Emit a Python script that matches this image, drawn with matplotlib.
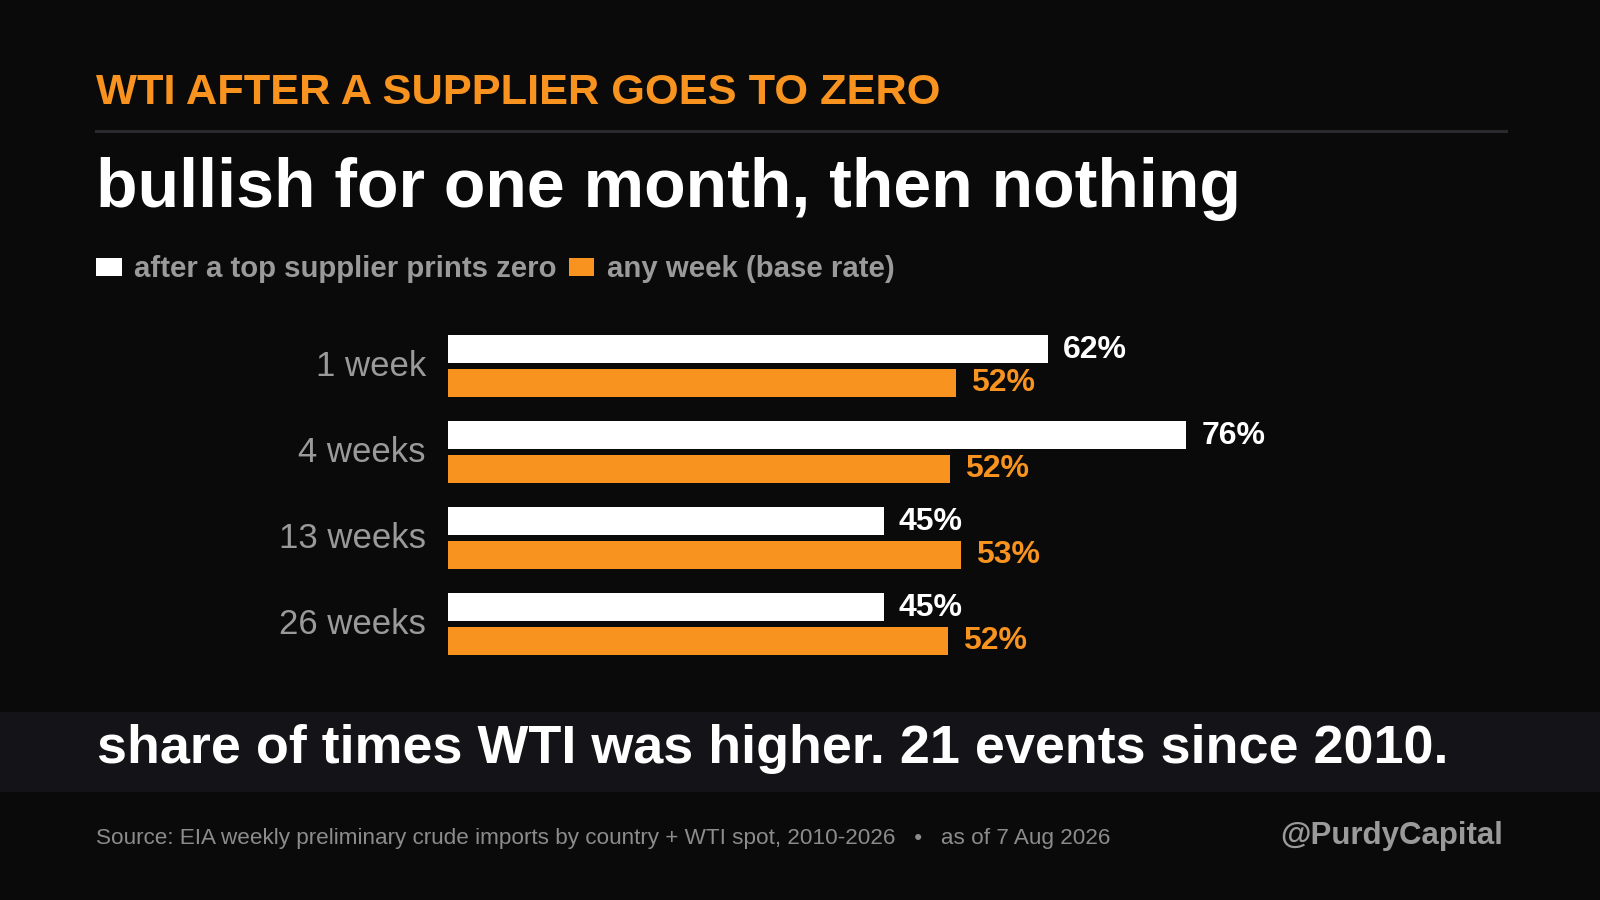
import matplotlib
matplotlib.use("Agg")
import matplotlib.pyplot as plt
from matplotlib.patches import Rectangle
from matplotlib.lines import Line2D

plt.rcParams['font.family'] = ['Liberation Sans', 'DejaVu Sans']

# ---- data ----
categories = ["1 week", "4 weeks", "13 weeks", "26 weeks"]
after_zero = [61.9, 76.2, 45.0, 45.0]       # % of times WTI higher after a top supplier prints zero
base_rate = [52.4, 51.8, 53.0, 51.6]        # % of any week (base rate)
after_labels = ["62%", "76%", "45%", "45%"]
base_labels = ["52%", "52%", "53%", "52%"]
series_names = ["after a top supplier prints zero", "any week (base rate)"]

title_top = "WTI AFTER A SUPPLIER GOES TO ZERO"
title_main = "bullish for one month, then nothing"
band_text = "share of times WTI was higher. 21 events since 2010."
source_text = "Source: EIA weekly preliminary crude imports by country + WTI spot, 2010-2026   \u2022   as of 7 Aug 2026"
handle_text = "@PurdyCapital"

# ---- style ----
BG = "#0a0a0a"
BAND = "#141418"
RULE = "#2a2a2e"
ORANGE = "#F7931E"
WHITE = "#ffffff"
GRAY = "#9a9a9a"
FOOT = "#8c8c8c"

W, H = 1600, 900
fig = plt.figure(figsize=(W / 100, H / 100), dpi=100, facecolor=BG)

def fx(px):
    return px / W

def fy(py):
    return 1 - py / H

# bottom band
fig.patches.append(Rectangle((0, fy(792)), 1, (792 - 712) / H, transform=fig.transFigure,
                             facecolor=BAND, edgecolor="none", zorder=0))

# titles
fig.text(fx(96), fy(104), title_top, color=ORANGE, fontsize=31.2, fontweight="bold",
         va="baseline", ha="left")
fig.lines.append(Line2D([fx(96), fx(1506)], [fy(130.7), fy(130.7)], transform=fig.transFigure,
                        color=RULE, linewidth=2.2))
fig.text(fx(96), fy(206.7), title_main, color=WHITE, fontsize=49, fontweight="bold",
         va="baseline", ha="left")

# legend
fig.patches.append(Rectangle((fx(96), fy(275.7)), 26 / W, 17.4 / H, transform=fig.transFigure,
                             facecolor=WHITE, edgecolor="none"))
fig.text(fx(134), fy(277.3), series_names[0], color=GRAY, fontsize=21.2, fontweight="bold",
         va="baseline", ha="left")
fig.patches.append(Rectangle((fx(569), fy(275.7)), 24.5 / W, 17.4 / H, transform=fig.transFigure,
                             facecolor=ORANGE, edgecolor="none"))
fig.text(fx(607), fy(277.3), series_names[1], color=GRAY, fontsize=21.2, fontweight="bold",
         va="baseline", ha="left")

# bar axes
ax_left, ax_right = 448, 448 + 968.8
ax_top, ax_bot = 320, 670
ax = fig.add_axes([fx(ax_left), fy(ax_bot), (ax_right - ax_left) / W, (ax_bot - ax_top) / H])
ax.set_facecolor("none")
ax.set_xlim(0, 100)
ax.set_ylim(3.535, -0.535)

pos = list(range(len(categories)))
h = 0.332
off = 0.196
ax.barh([p - off for p in pos], after_zero, height=h, color=WHITE, edgecolor="none")
ax.barh([p + off for p in pos], base_rate, height=h, color=ORANGE, edgecolor="none")

for p, v, lab in zip(pos, after_zero, after_labels):
    ax.annotate(lab, (v, p - off), xytext=(15, -8.6), textcoords="offset pixels",
                color=WHITE, fontsize=23, fontweight="bold", va="baseline", ha="left")
for p, v, lab in zip(pos, base_rate, base_labels):
    ax.annotate(lab, (v, p + off), xytext=(15, -8.6), textcoords="offset pixels",
                color=ORANGE, fontsize=23, fontweight="bold", va="baseline", ha="left")

ax.set_yticks([p - 0.03 for p in pos])
ax.set_yticklabels(categories, color=GRAY, fontsize=25)
ax.tick_params(axis="y", length=0, pad=16)
ax.set_xticks([])
for s in ax.spines.values():
    s.set_visible(False)

# band text
fig.text(fx(97), fy(763.3), band_text, color=WHITE, fontsize=38.8, fontweight="bold",
         va="baseline", ha="left")

# footer
fig.text(fx(96), fy(844), source_text, color=FOOT, fontsize=16.2, va="baseline", ha="left")
fig.text(fx(1503), fy(844), handle_text, color=GRAY, fontsize=22.5, fontweight="bold",
         va="baseline", ha="right")

fig.savefig("out.png", dpi=100, facecolor=BG)
